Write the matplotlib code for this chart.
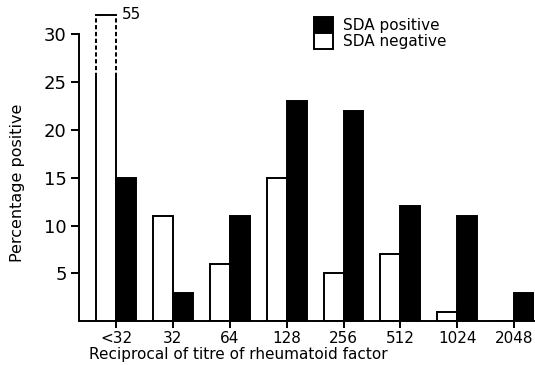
import matplotlib
matplotlib.use('Agg')
import matplotlib.pyplot as plt
from matplotlib.patches import Patch
import numpy as np

categories = ['<32', '32', '64', '128', '256', '512', '1024', '2048']
sda_negative = [55, 11, 6, 15, 5, 7, 1, 0]
sda_positive = [15, 3, 11, 23, 22, 12, 11, 3]
y_ticks = [5, 10, 15, 20, 25, 30]

CAP = 32
BREAK = 25.5

plt.rcParams['font.family'] = ['DejaVu Sans']

fig = plt.figure(figsize=(5.35, 3.65), dpi=100)
ax = fig.add_axes([0.148, 0.12, 0.850, 0.88])

x = np.arange(len(categories))
w = 0.35
neg_shown = [min(v, CAP) for v in sda_negative]

neg_bars = ax.bar(x - w, neg_shown, w, align='edge', color='white',
                  edgecolor='black', linewidth=1.4, zorder=2)
ax.bar(x, sda_positive, w, align='edge', color='black',
       edgecolor='black', linewidth=1.4, zorder=2)

# truncated first bar: solid lower part, dashed sides above the break
for bar, value in zip(neg_bars, sda_negative):
    if value > CAP:
        bar.set_linewidth(0)
        x0 = bar.get_x()
        x1 = x0 + bar.get_width()
        h = bar.get_height()
        ax.plot([x0, x0], [0, BREAK], color='black', lw=1.4, zorder=3)
        ax.plot([x1, x1], [0, BREAK], color='black', lw=1.4, zorder=3)
        ax.plot([x0, x0], [BREAK, h], color='black', lw=1.4, ls=(0, (2.2, 1.3)), zorder=3)
        ax.plot([x1, x1], [BREAK, h], color='black', lw=1.4, ls=(0, (2.2, 1.3)), zorder=3)
        ax.plot([x0, x1], [h, h], color='black', lw=1.4, zorder=3)
        ax.text(x1 + 0.1, h + 0.1, str(value), fontsize=11, ha='left', va='center')

ax.set_xlim(-0.65, 7.35)
ax.set_ylim(0, 33.6)
ax.spines['top'].set_visible(False)
ax.spines['right'].set_visible(False)
ax.spines['left'].set_bounds(0, 30)
ax.spines['left'].set_linewidth(1.4)
ax.spines['bottom'].set_linewidth(1.4)

ax.set_yticks(y_ticks)
ax.set_yticklabels([str(t) for t in y_ticks], fontsize=13)
ax.set_xticks(x)
ax.set_xticklabels(categories, fontsize=11)
ax.tick_params(axis='y', direction='out', length=6, width=1.4, pad=3)
ax.tick_params(axis='x', direction='out', length=5, width=1.4, pad=2)

ax.set_xlabel('Reciprocal of titre of rheumatoid factor', fontsize=11)
ax.xaxis.set_label_coords(0.35, -0.08)
ax.set_ylabel('Percentage positive', fontsize=11.5)
ax.yaxis.set_label_coords(-0.12, 0.43)

handles = [Patch(facecolor='black', edgecolor='black', linewidth=1.4, label='SDA positive'),
           Patch(facecolor='white', edgecolor='black', linewidth=1.4, label='SDA negative')]
ax.legend(handles=handles, loc='upper left', bbox_to_anchor=(0.516, 0.947),
          frameon=False, fontsize=11, handlelength=1.25, handleheight=1.25,
          handletextpad=0.65, labelspacing=0.0, borderpad=0.0, borderaxespad=0.0)

fig.savefig('out.png', dpi=100)
